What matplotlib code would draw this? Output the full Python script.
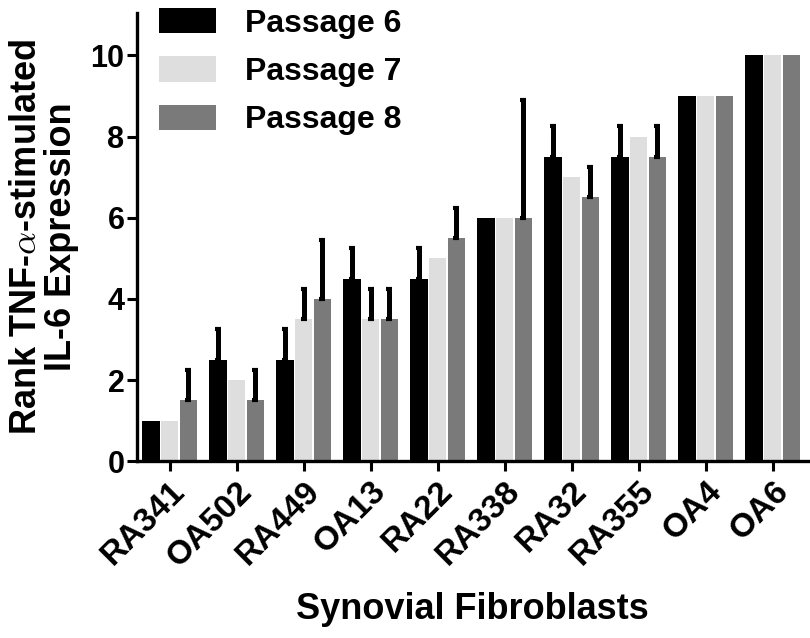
import matplotlib.pyplot as plt
import numpy as np

plt.rcParams['font.family'] = ['Liberation Sans', 'DejaVu Sans']
plt.rcParams['font.weight'] = 'bold'
plt.rcParams['mathtext.fontset'] = 'cm'

lines = ["RA341", "OA502", "RA449", "OA13", "RA22", "RA338", "RA32", "RA355", "OA4", "OA6"]
p6 = [1, 2.5, 2.5, 4.5, 4.5, 6, 7.5, 7.5, 9, 10]
p7 = [1, 2.0, 3.5, 3.5, 5.0, 6, 7.0, 8.0, 9, 10]
p8 = [1.5, 1.5, 4.0, 3.5, 5.5, 6, 6.5, 7.5, 9, 10]
p6_err = [0, 0.75, 0.75, 0.75, 0.75, 0, 0.75, 0.75, 0, 0]
p7_err = [0, 0, 0.75, 0.75, 0, 0, 0, 0, 0, 0]
p8_err = [0.75, 0.75, 1.45, 0.75, 0.75, 2.9, 0.75, 0.75, 0, 0]

series = [("Passage 6", p6, p6_err, "#000000"),
          ("Passage 7", p7, p7_err, "#dedede"),
          ("Passage 8", p8, p8_err, "#7a7a7a")]

fig = plt.figure(figsize=(8.1, 6.38), dpi=100)
ax = fig.add_axes([0.169, 0.277, 0.828, 0.703])

x = np.arange(len(lines))
w = 0.255
step = 0.28
for i, (name, vals, err, col) in enumerate(series):
    pos = x + (i - 1) * step
    ax.bar(pos, vals, width=w, color=col, label=name)
    yerr = np.array([np.zeros(len(err)), err])
    mask = np.array(err) > 0
    ax.errorbar(pos[mask], np.array(vals)[mask], yerr=yerr[:, mask], fmt="none",
                ecolor="black", elinewidth=3.6, capsize=2.5, capthick=3)

ax.set_xlim(-0.49, 9.52)
ax.set_ylim(0, 11.05)
ax.set_yticks([0, 2, 4, 6, 8, 10])
ax.set_xticks(x)
ax.set_xticklabels(lines, rotation=45, ha="right", rotation_mode="anchor", fontsize=24, fontweight="bold")
ax.tick_params(axis="y", labelsize=22, width=2.2, length=7, pad=2)
ax.tick_params(axis="x", width=2.2, length=7)
for lab in ax.get_yticklabels():
    lab.set_fontweight("bold")
for s in ["top", "right"]:
    ax.spines[s].set_visible(False)
for s in ["left", "bottom"]:
    ax.spines[s].set_linewidth(2.4)

ax.set_ylabel("Rank TNF-$\\alpha$-stimulated\nIL-6 Expression", fontsize=26, fontweight="bold",
              labelpad=8, linespacing=1.0)
ax.set_xlabel("Synovial Fibroblasts", fontsize=26, fontweight="bold", labelpad=14)

ax.legend(loc="upper left", bbox_to_anchor=(143 / 810, 1 + 8 / 638), bbox_transform=fig.transFigure,
          frameon=False, borderpad=0, handlelength=1.8, handleheight=0.84, labelspacing=0.55,
          handletextpad=0.9, prop={"weight": "bold", "size": 23})

fig.savefig("out.png", dpi=100)
